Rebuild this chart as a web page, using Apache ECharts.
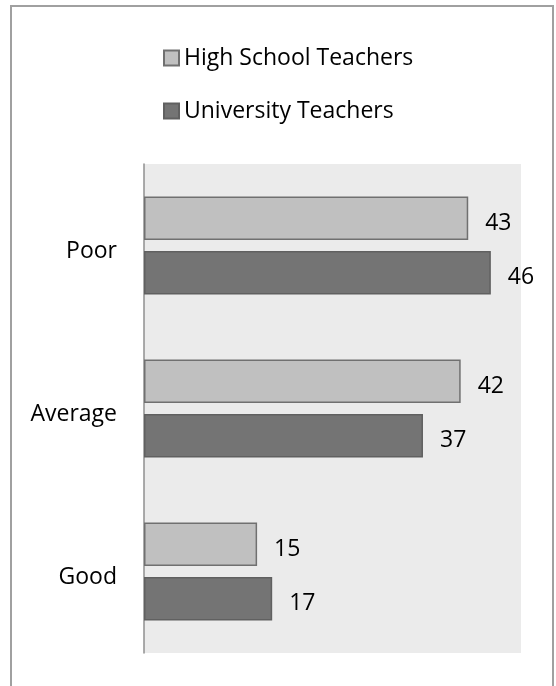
<!DOCTYPE html>
<html>
<head>
<meta charset="utf-8">
<script src="https://cdn.jsdelivr.net/npm/echarts@6/dist/echarts.min.js"></script>
<style>
  html, body { margin: 0; padding: 0; background: #ffffff; }
  #chart { width: 556px; height: 686px; position: relative; }
  #frame {
    position: absolute; left: 10px; top: 5px; width: 544px; height: 700px;
    border: 2px solid #a0a0a0; box-sizing: border-box; pointer-events: none;
  }
</style>
</head>
<body>
<div id="chart"></div>
<div id="frame"></div>
<script>
// Ratings of teaching quality, by group of teachers
const categories = ['Poor', 'Average', 'Good'];
const highSchool = [43, 42, 15];
const university = [46, 37, 17];
const seriesNames = ['High School Teachers', 'University Teachers'];

const FONT = '"Open Sans", "Liberation Sans", sans-serif';

const chart = echarts.init(document.getElementById('chart'), null, { renderer: 'canvas' });

const labelStyle = {
  show: true,
  position: 'right',
  distance: 17,
  offset: [0, 5],
  color: '#000',
  fontFamily: FONT,
  fontSize: 23
};

chart.setOption({
  animation: false,
  backgroundColor: '#ffffff',
  legend: {
    orient: 'vertical',
    left: 163,
    top: 46,
    padding: 0,
    itemWidth: 15,
    itemHeight: 15,
    itemGap: 29,
    icon: 'rect',
    textStyle: { fontFamily: FONT, fontSize: 23, color: '#000', lineHeight: 24 },
    data: seriesNames
  },
  grid: {
    left: 144,
    right: 35,
    top: 164,
    bottom: 33,
    show: true,
    backgroundColor: '#ebebeb',
    borderWidth: 0,
    containLabel: false
  },
  xAxis: {
    type: 'value',
    min: 0,
    max: 50,
    show: false
  },
  yAxis: {
    type: 'category',
    data: categories,
    inverse: true,
    axisLine: { show: true, lineStyle: { color: '#8f8f8f', width: 1.5 } },
    axisTick: { show: false },
    axisLabel: {
      margin: 27,
      verticalAlign: 'top',
      lineHeight: 12,
      color: '#000',
      fontFamily: FONT,
      fontSize: 23
    },
    splitLine: { show: false }
  },
  series: [
    {
      name: seriesNames[0],
      type: 'bar',
      data: highSchool,
      barCategoryGap: '40%',
      barGap: '25%',
      itemStyle: { color: '#c0c0c0', borderColor: '#707070', borderWidth: 1.5 },
      label: labelStyle
    },
    {
      name: seriesNames[1],
      type: 'bar',
      data: university,
      barCategoryGap: '40%',
      barGap: '25%',
      itemStyle: { color: '#747474', borderColor: '#606060', borderWidth: 1.5 },
      label: labelStyle
    }
  ]
});
</script>
</body>
</html>
